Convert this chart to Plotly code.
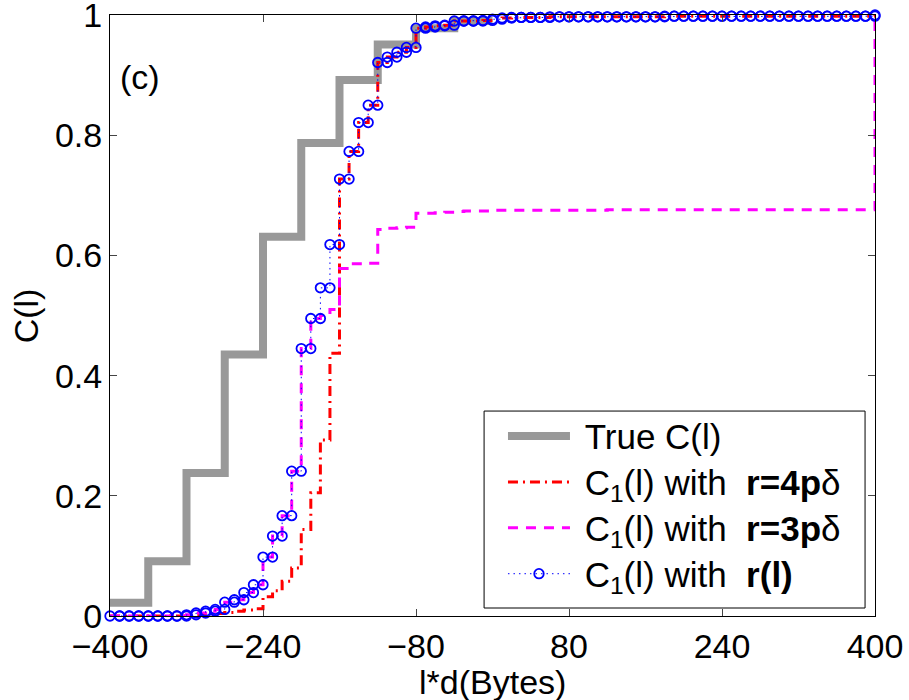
import plotly.graph_objects as go

# ---------------- data ----------------
grid_x = list(range(-400, 401, 10))  # 81 grid points, 80 intervals

# C1(l) with r(l): value on each interval [x_k, x_k+10)
c_rl = [0, 0, 0, 0, 0, 0, 0, 0,
        0.002, 0.005, 0.008, 0.011, 0.023, 0.027, 0.039, 0.052,
        0.098, 0.133, 0.167, 0.241, 0.445, 0.495, 0.546, 0.618,
        0.727, 0.773, 0.821, 0.850, 0.921, 0.930, 0.938, 0.946,
        0.978, 0.980, 0.982, 0.983, 0.990, 0.990, 0.990, 0.991,
        0.993, 0.995, 0.996, 0.996, 0.996, 0.996, 0.997, 0.997,
        0.997, 0.997, 0.997, 0.997, 0.997, 0.997, 0.997, 0.997,
        0.997, 0.997, 0.998, 0.998, 0.998, 0.998, 0.998, 0.998,
        0.998, 0.998, 0.998, 0.998, 0.998, 0.998, 0.998, 0.998,
        0.998, 0.998, 0.998, 0.998, 0.998, 0.998, 0.998, 0.998]

# C1(l) with r=4p delta
c_r4 = [0, 0, 0, 0, 0, 0, 0, 0,
        0, 0.001, 0.002, 0.004, 0.006, 0.008, 0.010, 0.012,
        0.032, 0.042, 0.058, 0.080, 0.144, 0.205, 0.293, 0.437,
        0.727, 0.773, 0.821, 0.850, 0.921, 0.930, 0.938, 0.946,
        0.978, 0.980, 0.982, 0.983, 0.990, 0.990, 0.990, 0.991,
        0.993, 0.995, 0.996, 0.996, 0.996, 0.996, 0.997, 0.997,
        0.997, 0.997, 0.997, 0.997, 0.997, 0.997, 0.997, 0.997,
        0.997, 0.997, 0.998, 0.998, 0.998, 0.998, 0.998, 0.998,
        0.998, 0.998, 0.998, 0.998, 0.998, 0.998, 0.998, 0.998,
        0.998, 0.998, 0.998, 0.998, 0.998, 0.998, 0.998, 0.998]

# C1(l) with r=3p delta
c_r3 = [0, 0, 0, 0, 0, 0, 0, 0,
        0.002, 0.005, 0.008, 0.011, 0.023, 0.027, 0.039, 0.052,
        0.098, 0.133, 0.167, 0.241, 0.445, 0.495, 0.500, 0.510,
        0.578, 0.586, 0.586, 0.587, 0.643, 0.645, 0.646, 0.647,
        0.670, 0.670, 0.671, 0.672, 0.673, 0.674, 0.674, 0.674,
        0.675, 0.675, 0.675, 0.675, 0.675, 0.675, 0.675, 0.675,
        0.675, 0.675, 0.675, 0.675, 0.676, 0.676, 0.676, 0.676,
        0.676, 0.676, 0.676, 0.676, 0.676, 0.676, 0.676, 0.676,
        0.676, 0.676, 0.676, 0.676, 0.676, 0.676, 0.676, 0.676,
        0.676, 0.676, 0.676, 0.676, 0.676, 0.676, 0.676, 0.676]

end_value = 1.0

# True C(l) (steps every 40 bytes)
true_x = [-400, -360, -320, -280, -240, -200, -160, -120, -80, -40, 0]
true_c = [0.022, 0.091, 0.238, 0.435, 0.631, 0.787, 0.892, 0.951, 0.978, 0.990, 0.990]

x_ticks = [-400, -240, -80, 80, 240, 400]
y_ticks = [0, 0.2, 0.4, 0.6, 0.8, 1]
y_ticktext = ["0", "0.2", "0.4", "0.6", "0.8", "1"]

legend_names = ["True C(l)",
                "C<sub>1</sub>(l) with  <b>r=4p</b>δ",
                "C<sub>1</sub>(l) with  <b>r=3p</b>δ",
                "C<sub>1</sub>(l) with  <b>r(l)</b>"]

# staircase for the marker series (markers at both corners of each step)
stair_x, stair_y = [], []
for k, v in enumerate(c_rl):
    stair_x += [grid_x[k], grid_x[k + 1]]
    stair_y += [v, v]
stair_x.append(grid_x[-1])
stair_y.append(end_value)

FONT = "Liberation Sans, Arial, Helvetica, sans-serif"
FS = 34
NB = "\u00a0"


def lname(s):
    return '<span style="font-size:35px">' + NB + s + "</span>"


fig = go.Figure()
fig.add_trace(go.Scatter(
    x=true_x, y=true_c, mode="lines", line_shape="hv",
    line=dict(color="#999999", width=8), name=lname(legend_names[0])))
fig.add_trace(go.Scatter(
    x=grid_x, y=c_r4 + [end_value], mode="lines", line_shape="hv",
    line=dict(color="#ff0000", width=3, dash="10px,5px,2px,5px"),
    name=lname(legend_names[1])))
fig.add_trace(go.Scatter(
    x=grid_x, y=c_r3 + [end_value], mode="lines", line_shape="hv",
    line=dict(color="#ff00ff", width=3, dash="10px,8px"),
    name=lname(legend_names[2])))
fig.add_trace(go.Scatter(
    x=stair_x, y=stair_y, mode="lines+markers",
    line=dict(color="#0000ff", width=1, dash="1.5px,4px"),
    marker=dict(symbol="circle-open", size=9.5, color="#0000ff",
                line=dict(width=1.8, color="#0000ff")),
    cliponaxis=False,
    name=lname(legend_names[3])))

axis_common = dict(
    showgrid=False, zeroline=False, showline=True, linecolor="black",
    linewidth=1, mirror="ticks", ticks="inside", ticklen=7,
    tickcolor="#444444", tickwidth=1, ticklabeloverflow="allow",
    automargin=False,
    tickfont=dict(family=FONT, size=FS, color="black"))

fig.update_xaxes(range=[-400, 400], tickvals=x_ticks, **axis_common)
fig.update_yaxes(range=[0, 1], tickvals=y_ticks, ticktext=y_ticktext, **axis_common)

fig.update_layout(
    width=909, height=700,
    margin=dict(l=110, r=34, t=15, b=84),
    paper_bgcolor="white", plot_bgcolor="white",
    font=dict(family=FONT, size=FS, color="black"),
    showlegend=True,
    legend=dict(x=0.5137, xanchor="left", y=0.346, yanchor="top",
                bgcolor="rgba(0,0,0,0)", borderwidth=0,
                font=dict(family=FONT, size=33, color="black"),
                itemwidth=62, tracegroupgap=0),
    shapes=[
        dict(type="rect", xref="paper", yref="paper", layer="above",
             x0=0.489, x1=0.987, y0=0.0133, y1=0.341,
             fillcolor="white", line=dict(color="black", width=1)),
    ],
    annotations=[
        dict(text="(c)", xref="paper", yref="paper", x=0.039, y=0.897,
             xanchor="center", yanchor="middle", showarrow=False,
             font=dict(family=FONT, size=FS, color="black")),
        dict(text="l*d(Bytes)", xref="paper", yref="paper", x=0.5, y=-0.11,
             xanchor="center", yanchor="middle", showarrow=False,
             font=dict(family=FONT, size=FS, color="black")),
        dict(text="C(l)", xref="paper", yref="paper", x=-0.11, y=0.5,
             xanchor="center", yanchor="middle", showarrow=False, textangle=-90,
             font=dict(family=FONT, size=FS, color="black")),
    ],
)

fig.write_html("out.html")
